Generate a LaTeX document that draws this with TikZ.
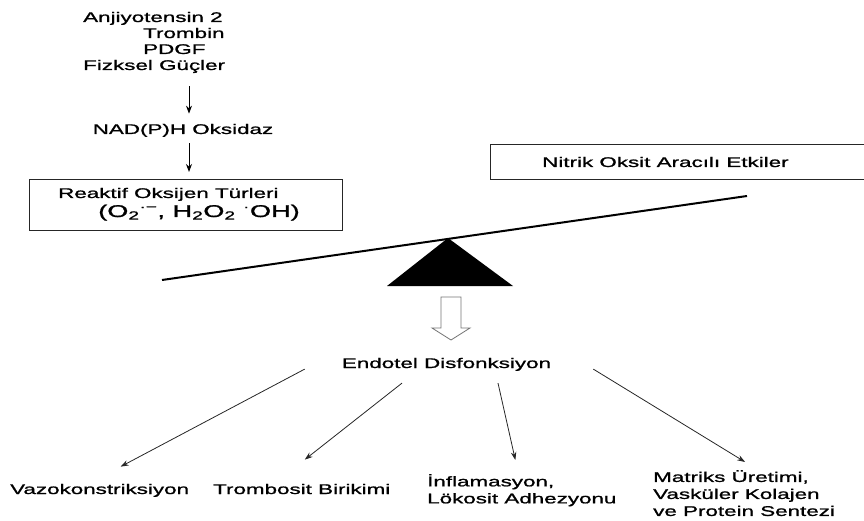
\documentclass[tikz,border=0pt]{standalone}
\usepackage{fontspec}
\setmainfont{Liberation Sans}
\newfontfamily\widesans[FakeStretch=1.6, FakeBold=1.2]{Liberation Sans}
\usetikzlibrary{arrows.meta}

\begin{document}
\begin{tikzpicture}[x=1pt, y=-1pt,
  every node/.style={
    inner sep=0pt, font=\widesans\fontsize{14}{17}\selectfont,
  },
  lbl/.style={anchor=base west},
  frame/.style={draw, line width=1.3pt, black!85},
  down/.style={-{Stealth[length=8pt,width=6pt]}, line width=1pt},
  ray/.style={-{Stealth[length=8pt,width=5.5pt]}, line width=0.8pt, black!85}
  ]
  \useasboundingbox (0,0) rectangle (864,521);

  % sources
  \node[lbl] (ang) at (83,22) {Anjiyotensin 2};
  \node[lbl] (trb) at (143,38) {Trombin};
  \node[lbl] (pdgf) at (143,54) {PDGF};
  \node[lbl] (fiz) at (83,70) {Fizksel Güçler};
  \node[anchor=base] (nad) at (183,134) {NAD(P)H Oksidaz};

  % reactive oxygen box
  \node[frame, anchor=north west, minimum width=313pt, minimum height=51pt] (ros) at (29,179) {};
  \node[lbl] (rostxt) at (58,198) {Reaktif Oksijen Türleri};
  \node[lbl, font=\widesans\fontsize{17}{20}\selectfont] (rosfor) at (98,217)
    {(O\textsubscript{2}\textsuperscript{·−}, H\textsubscript{2}O\textsubscript{2} \textsuperscript{·}OH)};

  \draw[down, shorten <=13pt, shorten >=10pt] ([xshift=6pt]nad.north |- fiz.south) -- ([xshift=6pt]nad.north);
  \draw[down, shorten <=6pt, shorten >=7pt] ([xshift=6pt]nad.south) -- ([xshift=6pt]nad.south |- ros.north);

  % nitric oxide box
  \node[frame, anchor=north west, minimum width=400pt, minimum height=35pt] (nobox) at (490,144) {};
  \node[lbl] (no) at (542,167) {Nitrik Oksit Aracılı Etkiler};

  % balance
  \coordinate (pivot) at (448,238);
  \coordinate (beamL) at (162,280);
  \coordinate (beamR) at (747,196);
  \fill (pivot) -- (387,286) -- (513,286) -- cycle;
  \draw[line width=2pt] (beamL) -- (beamR);

  % hollow arrow
  \draw[draw=black!55, line width=0.8pt]
    (441,297) -- (461,297) -- (461,328) -- (470,328) -- (451,340) -- (432,328) -- (441,328) -- cycle;

  \node[anchor=base] (endo) at (446.5,368) {Endotel Disfonksiyon};

  % outcomes
  \node[lbl] (vazo) at (10,494) {Vazokonstriksiyon};
  \node[lbl] (trom) at (213,494) {Trombosit Birikimi};
  \node[align=left, anchor=north west] (infl) at (427,474) {İnflamasyon,\\Lökosit Adhezyonu};
  \node[align=left, anchor=north west] (matr) at (653,470) {Matriks Üretimi,\\Vasküler Kolajen\\ve Protein Sentezi};

  \draw[ray] ([shift={(-37,-2)}]endo.south west) -- ([shift={(21,-17)}]vazo.north);
  \draw[ray] ([shift={(-44.5,12)}]endo.south) -- ([shift={(3,-24)}]trom.north);
  \draw[ray] ([shift={(51.5,12)}]endo.south) -- ([shift={(-6.5,-14)}]infl.north);
  \draw[ray] ([shift={(42,-2)}]endo.south east) -- ([shift={(1,-8)}]matr.north);
\end{tikzpicture}
\end{document}
